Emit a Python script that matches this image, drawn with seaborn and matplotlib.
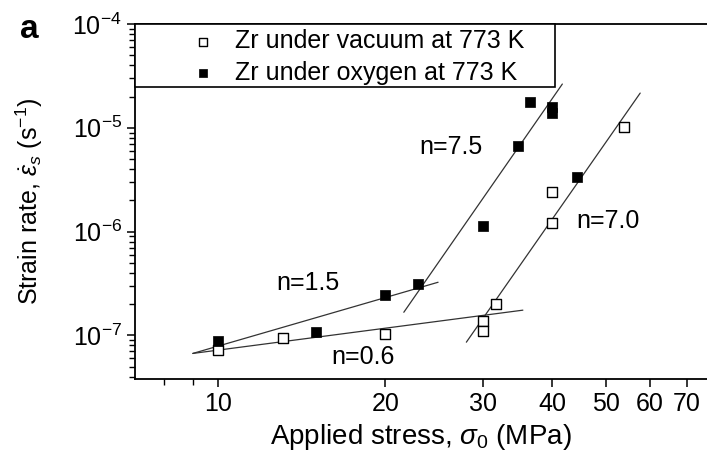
import numpy as np
import pandas as pd
import matplotlib
matplotlib.use("Agg")
import matplotlib.pyplot as plt
import matplotlib.ticker as mticker
from matplotlib.patches import Rectangle
import seaborn as sns

# --- data ---
vac_stress = [10, 13.1, 20, 30, 30, 31.6, 40, 40, 53.9]
vac_rate = [7.3e-8, 9.4e-8, 1.02e-7, 1.37e-7, 1.1e-7, 2.0e-7, 1.2e-6, 2.4e-6, 1.02e-5]

oxy_stress = [10, 15, 20, 22.9, 30, 34.7, 36.5, 40, 40, 44.4]
oxy_rate = [8.8e-8, 1.07e-7, 2.44e-7, 3.1e-7, 1.13e-6, 6.7e-6, 1.77e-5, 1.6e-5, 1.4e-5, 3.35e-6]

# fitted power-law lines (end points)
fit_names = ["n=0.6", "n=1.5", "n=7.5", "n=7.0"]
fit_x = [[9.0, 35.4], [9.0, 24.9], [21.6, 41.7], [28.0, 57.6]]
fit_y = [[6.7e-8, 1.75e-7], [6.7e-8, 3.25e-7], [1.67e-7, 2.64e-5], [8.6e-8, 2.16e-5]]
label_pos = [(18.2, 6.15e-8), (14.5, 3.18e-7), (26.3, 6.5e-6), (50.4, 1.26e-6)]

x_ticks = [10, 20, 30, 40, 50, 60, 70]

sns.set_style("ticks")
plt.rcParams["font.family"] = ["Liberation Sans", "DejaVu Sans"]
plt.rcParams["mathtext.fontset"] = "custom"
plt.rcParams["mathtext.rm"] = "Liberation Sans"
plt.rcParams["mathtext.it"] = "Liberation Sans:italic"
for key in ["text.color", "axes.labelcolor", "xtick.color", "ytick.color"]:
    plt.rcParams[key] = "black"

fig = plt.figure(figsize=(7.07, 4.63), dpi=100)
ax = fig.add_axes([135 / 707, 84 / 463, 572 / 707, 355 / 463])

fits = pd.DataFrame({
    "stress": sum(fit_x, []),
    "rate": sum(fit_y, []),
    "fit": [n for n in fit_names for _ in range(2)],
})
sns.lineplot(data=fits, x="stress", y="rate", units="fit", estimator=None,
             color="#333333", lw=0.9, ax=ax, legend=False)

vac = pd.DataFrame({"stress": vac_stress, "rate": vac_rate})
oxy = pd.DataFrame({"stress": oxy_stress, "rate": oxy_rate})
sns.scatterplot(data=vac, x="stress", y="rate", marker="s", s=45,
                facecolor="white", edgecolor="black", linewidth=1.0,
                label="Zr under vacuum at 773 K", ax=ax, zorder=3)
sns.scatterplot(data=oxy, x="stress", y="rate", marker="s", s=55,
                color="black", edgecolor="black", linewidth=0.5,
                label="Zr under oxygen at 773 K", ax=ax, zorder=3)

for name, (tx, ty) in zip(fit_names, label_pos):
    ax.text(tx, ty, name, fontsize=18, ha="center", va="center")

ax.set_xscale("log")
ax.set_yscale("log")
ax.set_xlim(7.08, 76)
ax.set_ylim(3.8e-8, 1e-4)

ax.xaxis.set_major_locator(mticker.FixedLocator(x_ticks))
ax.xaxis.set_major_formatter(mticker.FixedFormatter([str(t) for t in x_ticks]))
ax.xaxis.set_minor_locator(mticker.FixedLocator([8, 9]))
ax.xaxis.set_minor_formatter(mticker.NullFormatter())
ax.yaxis.set_major_locator(mticker.LogLocator(base=10, numticks=10))
ax.yaxis.set_minor_locator(mticker.LogLocator(base=10, subs=np.arange(2, 10), numticks=20))
ax.yaxis.set_minor_formatter(mticker.NullFormatter())
ax.tick_params(which="major", direction="out", length=6, width=1.1, labelsize=18)
ax.tick_params(which="minor", direction="out", length=4, width=1.0)

for side in ["left", "bottom", "top"]:
    ax.spines[side].set_linewidth(1.3)
    ax.spines[side].set_color("black")
ax.spines["right"].set_visible(False)

ax.set_xlabel(r"Applied stress, $\sigma_0$ (MPa)", fontsize=20, labelpad=4)
ax.set_ylabel(r"Strain rate, $\dot{\varepsilon}_s$ (s$^{-1}$)", fontsize=18, labelpad=20)

# legend box drawn as its own rectangle so it spans like the original
ax.add_patch(Rectangle((0, 0.8225), 0.734, 0.1775, transform=ax.transAxes,
                       facecolor="white", edgecolor="black", lw=1.2,
                       clip_on=False, zorder=4))
leg = ax.legend(loc="upper left", bbox_to_anchor=(0.097, 0.985), borderaxespad=0,
                borderpad=0, fontsize=18, frameon=False, handletextpad=0.8,
                labelspacing=0.3, handlelength=1.0, markerscale=0.8)
leg.set_zorder(5)

fig.text(20 / 707, 1 - 30 / 463, "a", fontsize=24, fontweight="bold", va="center")

fig.savefig("out.png", dpi=100)
